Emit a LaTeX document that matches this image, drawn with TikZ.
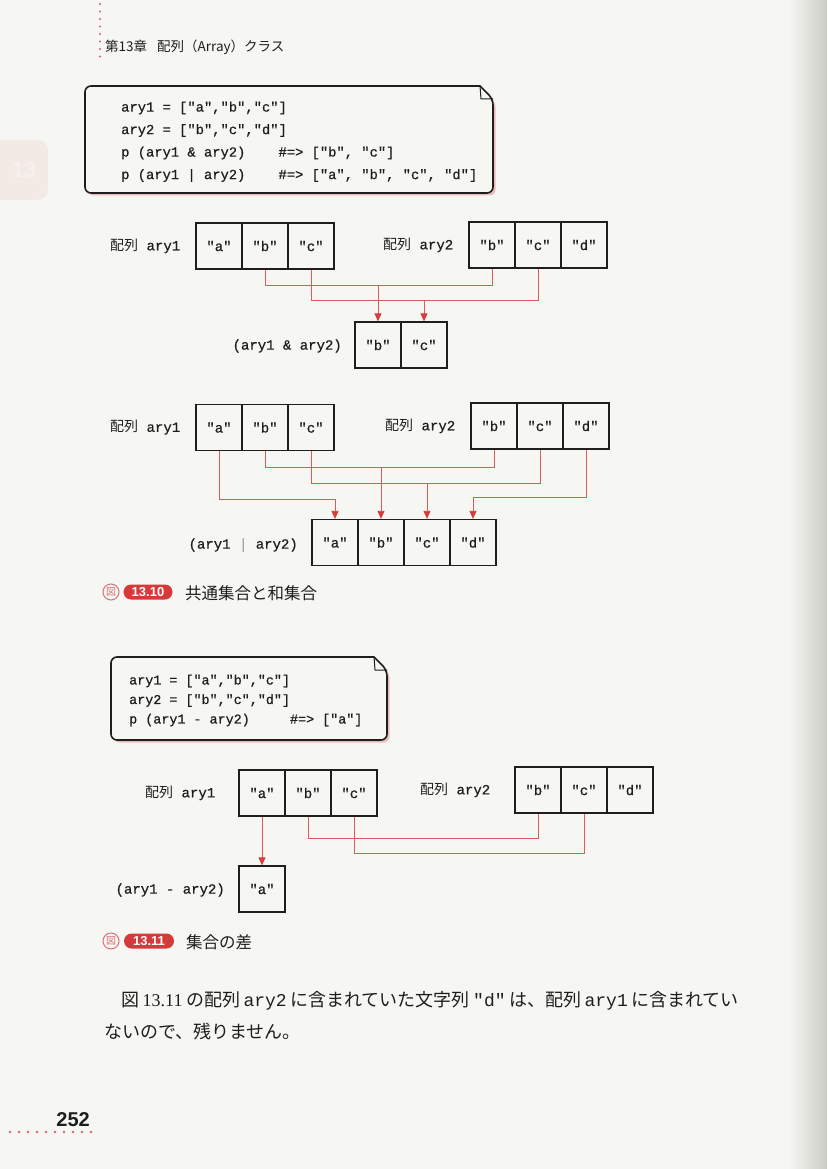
\documentclass[tikz,border=0pt]{standalone}
\usepackage{fontspec}
\setmainfont{Liberation Serif}
\setmonofont{Liberation Mono}
\newfontfamily\codefont{Liberation Mono}[FakeBold=0.7]
\newfontfamily\jp{Noto Sans CJK JP}
\newfontfamily\sanf{Liberation Sans}
\usetikzlibrary{arrows.meta}
\definecolor{paper}{HTML}{F6F6F2}
\definecolor{ink}{HTML}{1E1E1E}
\definecolor{linkred}{HTML}{DC5A5A}
\definecolor{arrowred}{HTML}{D63C3C}
\definecolor{pillred}{HTML}{D43A3A}
\definecolor{iconpink}{HTML}{D9707A}
\definecolor{shadowpink}{HTML}{EBBBBB}
\definecolor{dotpink}{HTML}{D9607A}
\definecolor{edgegray}{HTML}{CDCDC8}
\definecolor{tabpink}{HTML}{F3EAE6}
\tikzset{
  cell/.style={draw=ink, line width=1.3pt, minimum width=46pt, minimum height=46pt,
    inner sep=0pt, font=\codefont\fontsize{14}{14}\selectfont, text=ink},
  lbl/.style={inner sep=0pt, font=\codefont\fontsize{14}{14}\selectfont, text=ink},
  conn/.style={draw=linkred, line width=0.8pt},
  arr/.style={conn, -{Triangle[width=7pt,length=8pt,color=arrowred]}},
  codeline/.style={inner sep=0pt, anchor=west, font=\codefont\fontsize{13.8}{13.8}\selectfont, text=ink},
  codelinesm/.style={codeline, font=\codefont\fontsize{13.4}{13.4}\selectfont},
  notebox/.style={draw=ink, line width=1.6pt, fill=paper},
  icon/.style={circle, draw=iconpink, line width=1pt, minimum size=16pt, inner sep=0pt,
    font=\jp\fontsize{10}{10}\selectfont, text=iconpink},
  pill/.style={fill=pillred, rounded corners=7.5pt, minimum height=15pt, inner sep=0pt,
    text=white, font=\sanf\bfseries\fontsize{13}{13}\selectfont},
  caption/.style={anchor=west, inner sep=0pt, font=\jp\fontsize{16.5}{16.5}\selectfont, text=ink},
  para/.style={anchor=west, inner sep=0pt, font=\jp\fontsize{18}{18}\selectfont, text=ink},
}
% note shape: #1=x1 #2=y1 #3=x2 #4=y2
\newcommand\notepath[5]{%
  \path[#5] (#3-13,#2) {[rounded corners=6pt] -- (#1,#2) -- (#1,#4) -- (#3,#4) -- (#3,#2+13)} -- cycle;}
\newcommand\lat[1]{\hspace{3.5pt}#1\hspace{3.5pt}}
\begin{document}
\begin{tikzpicture}[x=1pt,y=-1pt]
\useasboundingbox (0,0) rectangle (827,1169);
\fill[paper] (0,0) rectangle (827,1169);
\shade[left color=paper, right color=edgegray] (788,0) rectangle (827,1169);
% faint chapter tab
\fill[tabpink, rounded corners=10pt] (-12,140) rectangle (48,200);
\node[text=paper!60!tabpink, font=\sanf\bfseries\fontsize{22}{22}\selectfont] (tab) at (24,170) {13};

% header
\foreach \yy in {4,11.5,...,58} \fill[dotpink] (100,\yy) circle (1.2);
\node[anchor=west, inner sep=0pt, font=\jp\fontsize{13.5}{13.5}\selectfont, text=ink] (hd) at (105,47) {第13章\hspace{10pt}配列（Array）クラス};

% code box 1
\notepath{87.5}{88.5}{495.5}{195.5}{fill=shadowpink}
\notepath{85}{86}{493}{193}{notebox}
\draw[ink, line width=1pt] (480,86) -- (481,99) -- (493,99);
\node[codeline] (c1a) at (121,108) {ary1 = ["a","b","c"]};
\node[codeline] (c1b) at (121,130.5) {ary2 = ["b","c","d"]};
\node[codeline] (c1c) at (121,153) {p (ary1 \& ary2)\ \ \ \ \#=> ["b", "c"]};
\node[codeline] (c1d) at (121,175.5) {p (ary1 | ary2)\ \ \ \ \#=> ["a", "b", "c", "d"]};

% diagram 1: intersection
\node[lbl, anchor=west] (a1l) at (110,246) {{\jp 配列} ary1};
\node[cell] (a1a) at (219,246) {"a"};
\node[cell] (a1b) at (265,246) {"b"};
\node[cell] (a1c) at (311,246) {"c"};
\node[lbl, anchor=west] (a2l) at (383,245) {{\jp 配列} ary2};
\node[cell] (a2b) at (492,245) {"b"};
\node[cell] (a2c) at (538,245) {"c"};
\node[cell] (a2d) at (584,245) {"d"};
\node[cell] (r1b) at (378,345) {"b"};
\node[cell] (r1c) at (424,345) {"c"};
\node[lbl, anchor=east] (r1l) at (342,346) {(ary1 \& ary2)};
\coordinate (h1) at (0,285);
\coordinate (h2) at (0,300);
\draw[conn] (a1b.south) |- (a2b.south |- h1) -- (a2b.south);
\draw[conn] (a1c.south) |- (a2c.south |- h2) -- (a2c.south);
\draw[arr] (r1b.north |- h1) -- (r1b.north);
\draw[arr] (r1c.north |- h2) -- (r1c.north);

% diagram 2: union
\node[lbl, anchor=west] (u1l) at (110,427.5) {{\jp 配列} ary1};
\node[cell] (u1a) at (219,427.5) {"a"};
\node[cell] (u1b) at (265,427.5) {"b"};
\node[cell] (u1c) at (311,427.5) {"c"};
\node[lbl, anchor=west] (u2l) at (385,426) {{\jp 配列} ary2};
\node[cell] (u2b) at (494,426) {"b"};
\node[cell] (u2c) at (540,426) {"c"};
\node[cell] (u2d) at (586,426) {"d"};
\node[cell] (ua) at (335,542.5) {"a"};
\node[cell] (ub) at (381,542.5) {"b"};
\node[cell] (uc) at (427,542.5) {"c"};
\node[cell] (ud) at (473,542.5) {"d"};
\node[lbl, anchor=east] (ul) at (298,545) {(ary1 {\color{black!35}|} ary2)};
\coordinate (h3) at (0,467);
\coordinate (h4) at (0,483);
\coordinate (h5) at (0,499);
\coordinate (h6) at (0,497);
\draw[arr] (u1a.south) |- (ua.north |- h5) -- (ua.north);
\draw[conn] (u1b.south) |- (u2b.south |- h3) -- (u2b.south);
\draw[conn] (u1c.south) |- (u2c.south |- h4) -- (u2c.south);
\draw[arr] (ub.north |- h3) -- (ub.north);
\draw[arr] (uc.north |- h4) -- (uc.north);
\draw[arr] (u2d.south) |- (ud.north |- h6) -- (ud.north);

% caption 1
\node[icon] (ic1) at (111,592) {図};
\node[pill, minimum width=49pt] (p1) at (148,592) {13.10};
\node[caption] (cap1) at (185,593) {共通集合と和集合};

% code box 2
\notepath{113.5}{659.5}{389.5}{742.5}{fill=shadowpink}
\notepath{111}{657}{387}{740}{notebox}
\draw[ink, line width=1pt] (374,657) -- (375,670) -- (387,670);
\node[codelinesm] (c2a) at (129,681) {ary1 = ["a","b","c"]};
\node[codelinesm] (c2b) at (129,700.5) {ary2 = ["b","c","d"]};
\node[codelinesm] (c2c) at (129,720) {p (ary1 - ary2)\ \ \ \ \ \#=> ["a"]};

% diagram 3: difference
\node[lbl, anchor=west] (d1l) at (145,793) {{\jp 配列} ary1};
\node[cell] (d1a) at (262,793) {"a"};
\node[cell] (d1b) at (308,793) {"b"};
\node[cell] (d1c) at (354,793) {"c"};
\node[lbl, anchor=west] (d2l) at (420,790) {{\jp 配列} ary2};
\node[cell] (d2b) at (538,790) {"b"};
\node[cell] (d2c) at (584,790) {"c"};
\node[cell] (d2d) at (630,790) {"d"};
\node[cell] (da) at (262,889) {"a"};
\node[lbl, anchor=east] (dl) at (225,890) {(ary1 - ary2)};
\coordinate (h7) at (0,838);
\coordinate (h8) at (0,853);
\draw[arr] (d1a.south) -- (da.north);
\draw[conn] (d1b.south) |- (d2b.south |- h7) -- (d2b.south);
\draw[conn] (d1c.south) |- (d2c.south |- h8) -- (d2c.south);

% caption 2
\node[icon] (ic2) at (111,941) {図};
\node[pill, minimum width=50pt] (p2) at (149,941) {13.11};
\node[caption] (cap2) at (186,942) {集合の差};

% paragraph
\node[para] (t1) at (121,1001) {図\lat{{\rmfamily 13.11}}の配列\lat{{\ttfamily ary2}}に含まれていた文字列\lat{{\ttfamily "d"}}は、配列\lat{{\ttfamily ary1}}に含まれてい};
\node[para] (t2) at (104,1032) {ないので、残りません。};

% page number
\node[anchor=east, inner sep=0pt, font=\sanf\bfseries\fontsize{20}{20}\selectfont, text=ink] (pg) at (90,1120) {252};
\foreach \xx in {10,19,...,92} \fill[dotpink] (\xx,1132) circle (1.3);
\end{tikzpicture}
\end{document}
